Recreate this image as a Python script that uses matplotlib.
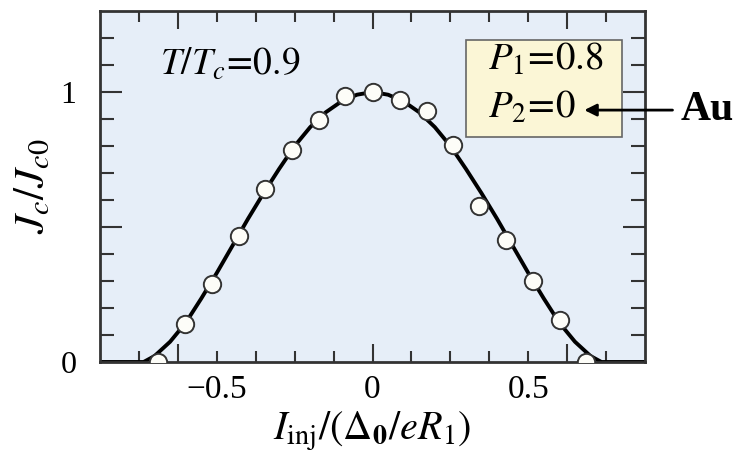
import matplotlib
matplotlib.use('Agg')
import matplotlib.pyplot as plt
from matplotlib.patches import Rectangle
from matplotlib.transforms import blended_transform_factory

plt.rcParams['font.family'] = ['Liberation Serif', 'DejaVu Serif']
plt.rcParams['mathtext.fontset'] = 'stix'

# measured points (open circles)
x_pts = [-0.688, -0.603, -0.517, -0.429, -0.344, -0.257, -0.172, -0.087, 0.0,
         0.087, 0.174, 0.257, 0.343, 0.428, 0.516, 0.601, 0.687]
y_pts = [0.0, 0.142, 0.289, 0.467, 0.640, 0.785, 0.896, 0.985, 1.0,
         0.970, 0.931, 0.804, 0.578, 0.452, 0.300, 0.156, 0.0]

# theory curve
x_curve = [-0.875, -0.735, -0.70, -0.65, -0.60, -0.55, -0.50, -0.45, -0.40, -0.35,
           -0.30, -0.25, -0.20, -0.15, -0.10, -0.05, 0.0,
           0.05, 0.10, 0.15, 0.20, 0.25, 0.30, 0.35, 0.40, 0.45, 0.50,
           0.55, 0.60, 0.65, 0.70, 0.735, 0.875]
y_curve = [0.0, 0.0, 0.022, 0.075, 0.145, 0.235, 0.33, 0.43, 0.53, 0.625,
           0.715, 0.80, 0.87, 0.925, 0.965, 0.99, 1.0,
           0.99, 0.965, 0.925, 0.87, 0.80, 0.715, 0.625, 0.53, 0.43, 0.33,
           0.235, 0.145, 0.075, 0.022, 0.0, 0.0]

x_labels = ['\u22120.5', '0', '0.5']
x_label_pos = [-0.5, 0.0, 0.5]

fig = plt.figure(figsize=(7.36, 4.57), dpi=100)
ax = fig.add_axes([0.1359, 0.2079, 0.7405, 0.768])
ax.set_facecolor('#e6eef8')

ax.plot(x_curve, y_curve, color='black', lw=2.8, zorder=2)
ax.plot(x_pts, y_pts, 'o', ms=12.5, mfc='#fdfdf8', mec='#333333', mew=1.4, zorder=3)

ax.set_xlim(-0.875, 0.875)
ax.set_ylim(0, 1.3)

# x ticks: long at 0 and +-0.625, short every 0.125
ax.set_xticks([-0.625, 0, 0.625])
ax.set_xticklabels([])
ax.set_xticks([-0.75, -0.5, -0.375, -0.25, -0.125, 0.125, 0.25, 0.375, 0.5, 0.75], minor=True)
ax.set_yticks([0, 0.5, 1.0])
ax.set_yticklabels(['0', '', '1'], fontsize=23)
ax.set_yticks([0.1, 0.2, 0.3, 0.4, 0.6, 0.7, 0.8, 0.9, 1.1, 1.2], minor=True)

ax.tick_params(axis='both', which='both', direction='in', top=True, right=True,
               color='#333333', width=1.5)
ax.tick_params(axis='x', which='major', length=13)
ax.tick_params(axis='x', which='minor', length=8)
ax.tick_params(axis='y', which='major', length=16, pad=17)
ax.tick_params(axis='y', which='minor', length=10)
for s in ax.spines.values():
    s.set_color('#333333')
    s.set_linewidth(2)

trans = blended_transform_factory(ax.transData, ax.transAxes)
for xp, lab in zip(x_label_pos, x_labels):
    ax.text(xp, -0.035, lab, transform=trans, ha='center', va='top', fontsize=24)

ax.text(0.0, -0.222, r'$I_{\mathrm{inj}}/(\Delta_{\mathbf{0}}/eR_1)$', transform=trans,
        ha='center', va='baseline', fontsize=29)
ax.set_ylabel(r'$J_c/J_{c0}$', fontsize=31)
ax.yaxis.set_label_coords(-0.085, 0.5)

ax.text(-0.683, 1.063, r'$T/T_c\!=\!0.9$', fontsize=27, va='baseline', ha='left')

ax.add_patch(Rectangle((0.301, 0.833), 0.5, 0.36, facecolor='#fbf6d6',
                       edgecolor='#666666', lw=1.2, zorder=4))
ax.text(0.37, 1.083, r'$P_1\!=\!0.8$', fontsize=28, va='baseline', ha='left', zorder=5)
ax.text(0.37, 0.905, r'$P_2\!=\!0$', fontsize=28, va='baseline', ha='left', zorder=5)

ax.annotate('Au', xy=(0.68, 0.933), xytext=(0.99, 0.933), fontsize=30,
            fontweight='bold', va='center', ha='left', annotation_clip=False,
            arrowprops=dict(arrowstyle='-|>', color='black', lw=2,
                            mutation_scale=18, shrinkA=4, shrinkB=0), zorder=6)

fig.savefig('out.png', dpi=100)
